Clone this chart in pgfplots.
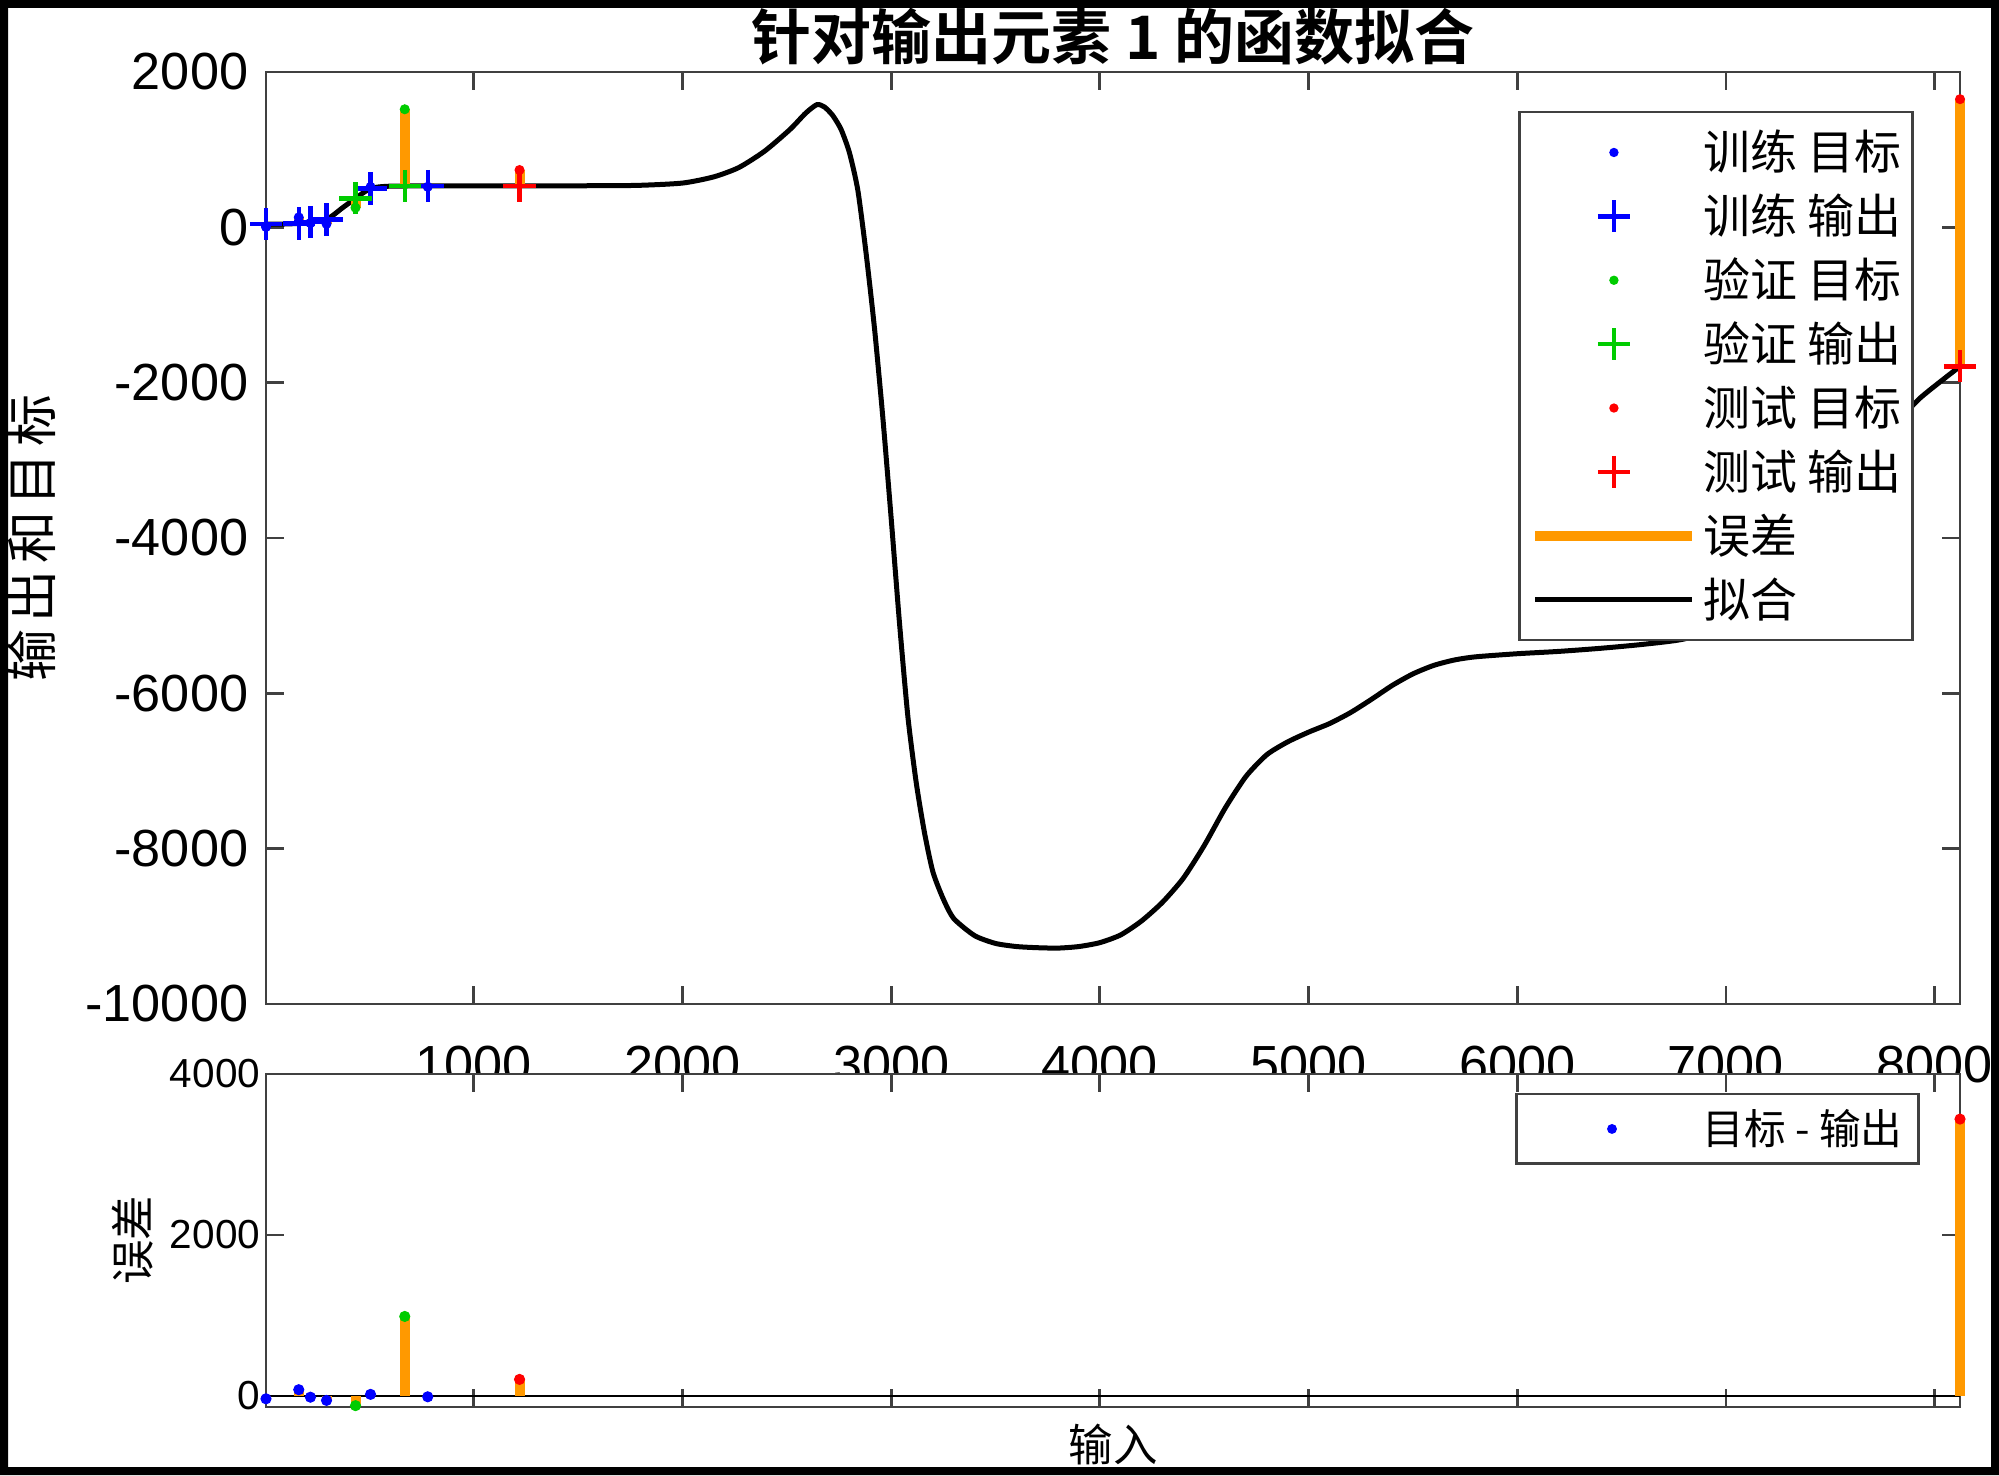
\documentclass[border=0pt]{standalone}
\usepackage{fontspec}
\setmainfont{Liberation Sans}
\newfontfamily\cjk{Noto Sans CJK SC}[BoldFont={Noto Sans CJK SC Bold}]
\usepackage{pgfplots}
\pgfplotsset{compat=1.18}
\definecolor{errorange}{rgb}{1,0.6,0}
\definecolor{vgreen}{rgb}{0,0.8,0}
\definecolor{axgray}{gray}{0.25}

\pgfplotsset{
  common/.style={
    scale only axis,
    width=609.84pt,
    xmin=4, xmax=8122,
    xtick={1000,2000,3000,4000,5000,6000,7000,8000},
    tick align=inside,
    xtick pos=both, ytick pos=both,
    xticklabel pos=lower, yticklabel pos=left,
    major tick length=6.48pt,
    axis line style={line width=1pt, draw=axgray},
    tick style={line width=1pt, draw=axgray},
    scaled ticks=false,
    /pgf/number format/assume math mode=true,
    /pgf/number format/1000 sep={},
    clip=false,
    legend cell align=left,
    legend image code/.code={\path (0pt,0pt) (56.52pt,0pt);\draw[mark repeat=2,mark phase=2,##1] plot coordinates {(0pt,0pt) (28.26pt,0pt) (56.52pt,0pt)};},
  },
}

\pgfplotstableread{
x y
4 40
80 42
161 50
217 70
260 85
294 100
330 165
370 250
433 373
470 445
505 500
550 522
600 530
669 532
779 533
1000 533
1219 533
1500 535
1781 540
2000 570
2150 650
2270 770
2393 980
2515 1260
2590 1470
2644 1580
2680 1550
2720 1440
2760 1260
2800 960
2840 480
2880 -340
2920 -1300
2960 -2450
3000 -3750
3040 -5100
3080 -6300
3120 -7150
3160 -7800
3200 -8300
3250 -8650
3300 -8900
3400 -9120
3500 -9220
3600 -9260
3700 -9275
3800 -9280
3900 -9260
4000 -9210
4100 -9110
4200 -8930
4300 -8690
4400 -8380
4500 -7960
4600 -7480
4700 -7070
4800 -6790
4900 -6625
5000 -6500
5100 -6390
5200 -6250
5300 -6080
5400 -5900
5500 -5750
5600 -5640
5700 -5570
5800 -5530
6000 -5490
6200 -5460
6400 -5420
6600 -5370
6800 -5300
7000 -5120
7200 -4700
7400 -3950
7600 -3200
7800 -2580
7930 -2200
8122 -1790
}\fitdata

\begin{document}
\begin{tikzpicture}
\path[use as bounding box] (0,0) rectangle (719.64pt,531pt);
% ---------------- top axis ----------------
\begin{axis}[common,
  at={(95.76pt,169.56pt)}, anchor=south west,
  height=335.52pt,
  ymin=-10000, ymax=2000,
  ytick={-10000,-8000,-6000,-4000,-2000,0,2000},
  tick label style={font=\fontsize{18.8pt}{18.8pt}\selectfont},
  xticklabel style={yshift=-11.5pt},
  yticklabel style={xshift=-2.9pt},
  title={\cjk\bfseries 针对输出元素 1 的函数拟合},
  title style={at={(axis description cs:0.5,1.0197)}, anchor=center, font=\fontsize{21.6pt}{21.6pt}\selectfont},
  ylabel={\cjk 输\hspace{2.5pt}出\hspace{2.5pt}和\hspace{2.5pt}目\hspace{2.5pt}标},
  every axis y label/.style={at={(axis description cs:-0.1381,0.5)}, rotate=90, anchor=center, font=\fontsize{18.7pt}{18.7pt}\selectfont},
  legend style={at={(axis description cs:0.7391,0.9582)}, anchor=north west,
    draw=axgray, line width=0.9pt, fill=white,
    font=\cjk\fontsize{16.9pt}{16.9pt}\selectfont,
    inner xsep=4pt, inner ysep=3pt, row sep=0pt, column sep=2.1pt,
    nodes={inner sep=0pt, text height=17.8pt, text depth=5.2pt}},
]
\addplot[black, line width=1.8pt, smooth, tension=0.4, forget plot] table[x=x,y=y] {\fitdata};
% error segments (target to output)
\addplot[errorange, line width=3.6pt, forget plot] coordinates {(4,5) (4,40)};
\addplot[errorange, line width=3.6pt, forget plot] coordinates {(161,128) (161,50)};
\addplot[errorange, line width=3.6pt, forget plot] coordinates {(217,55) (217,70)};
\addplot[errorange, line width=3.6pt, forget plot] coordinates {(294,45) (294,100)};
\addplot[errorange, line width=3.6pt, forget plot] coordinates {(505,520) (505,500)};
\addplot[errorange, line width=3.6pt, forget plot] coordinates {(779,522) (779,532)};
\addplot[errorange, line width=3.6pt, forget plot] coordinates {(433,253) (433,373)};
\addplot[errorange, line width=3.6pt, forget plot] coordinates {(669,1520) (669,532)};
\addplot[errorange, line width=3.6pt, forget plot] coordinates {(1219,738) (1219,532)};
\addplot[errorange, line width=3.6pt, forget plot] coordinates {(8122,1650) (8122,-1790)};
% train
\addplot[only marks, mark=*, mark size=1.6pt, blue, legend image post style={mark size=1.2pt}] coordinates {(4,5) (161,128) (217,55) (294,45) (505,520) (779,522)};
\addlegendentry{训练 目标}
\addplot[only marks, mark=+, mark size=5.8pt, blue, line width=1.6pt] coordinates {(4,40) (161,50) (217,70) (294,100) (505,500) (779,532)};
\addlegendentry{训练 输出}
% validation
\addplot[only marks, mark=*, mark size=1.6pt, vgreen, legend image post style={mark size=1.2pt}] coordinates {(433,253) (669,1520)};
\addlegendentry{验证 目标}
\addplot[only marks, mark=+, mark size=5.8pt, vgreen, line width=1.6pt] coordinates {(433,373) (669,532)};
\addlegendentry{验证 输出}
% test
\addplot[only marks, mark=*, mark size=1.6pt, red, legend image post style={mark size=1.2pt}] coordinates {(1219,738) (8122,1650)};
\addlegendentry{测试 目标}
\addplot[only marks, mark=+, mark size=5.8pt, red, line width=1.6pt] coordinates {(1219,532) (8122,-1790)};
\addlegendentry{测试 输出}
\addlegendimage{errorange, line width=3.6pt}
\addlegendentry{误差}
\addlegendimage{black, line width=1.8pt}
\addlegendentry{拟合}
\end{axis}
% ---------------- bottom axis ----------------
\begin{axis}[common,
  at={(95.76pt,24.48pt)}, anchor=south west,
  height=119.88pt,
  ymin=-137, ymax=4000,
  ytick={0,2000,4000},
  xticklabels={},
  axis background/.style={fill=white},
  tick label style={font=\fontsize{14.6pt}{14.6pt}\selectfont},
  yticklabel style={xshift=1.44pt},
  ylabel={\cjk 误差},
  every axis y label/.style={at={(axis description cs:-0.0785,0.5)}, rotate=90, anchor=center, font=\fontsize{16pt}{16pt}\selectfont},
  xlabel={\cjk 输入},
  every axis x label/.style={at={(axis description cs:0.5,-0.1141)}, anchor=center, font=\fontsize{16pt}{16pt}\selectfont},
  legend style={at={(axis description cs:0.7373,0.943)}, anchor=north west,
    draw=axgray, line width=0.9pt, fill=white,
    font=\cjk\fontsize{15pt}{15pt}\selectfont,
    inner xsep=5.76pt, inner ysep=3pt, column sep=3.9pt,
    nodes={inner sep=0pt, text height=15.2pt, text depth=3.8pt}},
]
\addplot[black, line width=1pt, forget plot] coordinates {(4,0) (8122,0)};
\addplot[errorange, line width=3.6pt, forget plot] coordinates {(4,0) (4,-35)};
\addplot[errorange, line width=3.6pt, forget plot] coordinates {(161,0) (161,78)};
\addplot[errorange, line width=3.6pt, forget plot] coordinates {(217,0) (217,-15)};
\addplot[errorange, line width=3.6pt, forget plot] coordinates {(294,0) (294,-55)};
\addplot[errorange, line width=3.6pt, forget plot] coordinates {(505,0) (505,20)};
\addplot[errorange, line width=3.6pt, forget plot] coordinates {(779,0) (779,-10)};
\addplot[errorange, line width=3.6pt, forget plot] coordinates {(433,0) (433,-120)};
\addplot[errorange, line width=3.6pt, forget plot] coordinates {(669,0) (669,988)};
\addplot[errorange, line width=3.6pt, forget plot] coordinates {(1219,0) (1219,206)};
\addplot[errorange, line width=3.6pt, forget plot] coordinates {(8122,0) (8122,3440)};
\addplot[only marks, mark=*, mark size=1.8pt, blue, legend image post style={mark size=1.3pt}] coordinates {(4,-35) (161,78) (217,-15) (294,-55) (505,20) (779,-10)};
\addlegendentry{目标 - 输出}
\addplot[only marks, mark=*, mark size=1.8pt, vgreen, forget plot] coordinates {(433,-120) (669,988)};
\addplot[only marks, mark=*, mark size=1.8pt, red, forget plot] coordinates {(1219,206) (8122,3440)};
\end{axis}
\fill[black, even odd rule] (0,0) rectangle (719.64pt,531pt) (2.88pt,2.88pt) rectangle (716.76pt,528.12pt);
\end{tikzpicture}
\end{document}
